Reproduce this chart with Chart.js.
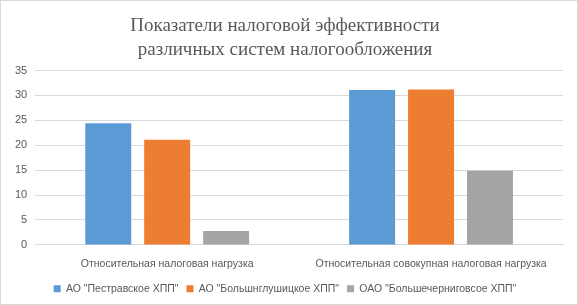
<!DOCTYPE html>
<html>
<head>
<meta charset="utf-8">
<script src="https://cdn.jsdelivr.net/npm/chart.js@4/dist/chart.umd.min.js"></script>
<style>
  html, body { margin: 0; padding: 0; background: #fff; }
  #wrap { width: 576px; height: 303px; border: 1px solid #d9d9d9; }
</style>
</head>
<body>
<div id="wrap"><canvas id="chart" width="576" height="303"></canvas></div>
<script>
const categories = ['Относительная налоговая нагрузка', 'Относительная совокупная налоговая нагрузка'];
const seriesNames = ['АО "Пестравское ХПП"', 'АО "Большнглушицкое ХПП"', 'ОАО "Большечерниговсое ХПП"'];
const pestravskoe = [24.4, 31.1];
const bolshoglushitskoe = [21.1, 31.2];
const bolshechernigovskoe = [2.8, 14.9];
const colors = ['#5b9bd5', '#ed7d31', '#a5a5a5'];

const font = "'Liberation Sans', Arial, sans-serif";

new Chart(document.getElementById('chart').getContext('2d'), {
  type: 'bar',
  data: {
    labels: categories,
    datasets: [pestravskoe, bolshoglushitskoe, bolshechernigovskoe].map((d, i) => ({
      label: seriesNames[i],
      data: d,
      backgroundColor: colors[i],
      categoryPercentage: 0.67,
      barPercentage: 0.78
    }))
  },
  options: {
    responsive: false,
    animation: false,
    layout: { padding: { left: 6, right: 14, top: 0, bottom: 0 } },
    plugins: {
      title: {
        display: true,
        text: ['Показатели налоговой эффективности', 'различных систем налогообложения'],
        color: '#595959',
        font: { family: "'Liberation Serif', 'Times New Roman', serif", size: 19, weight: 'normal', lineHeight: 1.25 },
        padding: { top: 13, bottom: 9 }
      },
      legend: {
        position: 'bottom',
        labels: {
          color: '#595959',
          font: { family: font, size: 10.5 },
          boxWidth: 7,
          boxHeight: 7,
          padding: 8
        }
      },
      tooltip: { enabled: false }
    },
    scales: {
      x: {
        grid: { display: false },
        border: { color: '#d9d9d9' },
        ticks: { color: '#595959', font: { family: font, size: 10.5 }, padding: 5, maxRotation: 0, autoSkip: false }
      },
      y: {
        min: 0,
        max: 35,
        ticks: { stepSize: 5, color: '#595959', font: { family: font, size: 11 }, padding: 8 },
        grid: { color: '#d9d9d9', drawTicks: false },
        border: { display: false }
      }
    }
  }
});
</script>
</body>
</html>
